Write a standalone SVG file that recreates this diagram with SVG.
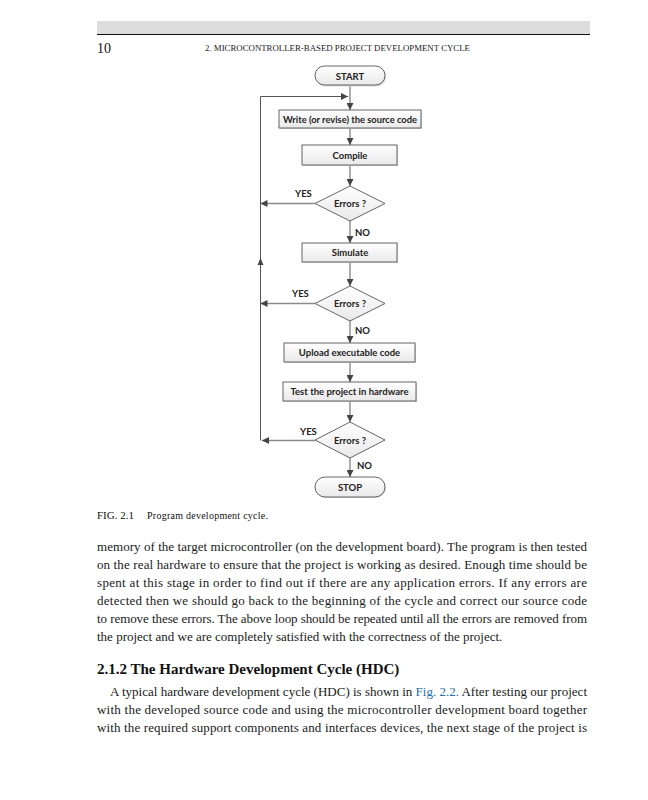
<svg xmlns="http://www.w3.org/2000/svg" width="648" height="800" viewBox="0 0 648 800">
<defs>
<linearGradient id="g" x1="0" y1="0" x2="0" y2="1"><stop offset="0" stop-color="#ffffff"/><stop offset="1" stop-color="#e9e9e9"/></linearGradient>
<marker id="ah" viewBox="0 0 10 10" refX="10" refY="5" markerWidth="7" markerHeight="7" markerUnits="userSpaceOnUse" orient="auto"><path d="M0,0 L10,5 L0,10 Z" fill="#444"/></marker>
<style>
.box{fill:url(#g);stroke:#555;stroke-width:0.9}
.sh{fill:#d8d8d8}
.lbl{font-family:Lato,"Open Sans","Liberation Sans",sans-serif;font-weight:bold;font-size:9.5px;fill:#222;text-anchor:middle}
.yn{font-family:Lato,"Open Sans","Liberation Sans",sans-serif;font-weight:bold;font-size:9.5px;fill:#222}
.c{fill:none;stroke:#8a8a8a;stroke-width:1.4;marker-end:url(#ah)}
.loop{fill:none;stroke:#555;stroke-width:1;marker-end:url(#ah)}
.body{font-family:"Liberation Serif",serif;font-size:13px;fill:#1a1a1a}
</style>
</defs>
<rect width="648" height="800" fill="#ffffff"/>
<!-- header -->
<rect x="97" y="21" width="493" height="13" fill="#dddddd"/>
<line x1="97" y1="34.5" x2="590" y2="34.5" stroke="#111" stroke-width="1.2"/>
<text x="97" y="53" font-family="Liberation Serif,serif" font-size="14" fill="#111">10</text>
<text x="205" y="51" font-family="Liberation Serif,serif" font-size="8.5" fill="#222" textLength="265" lengthAdjust="spacingAndGlyphs">2.  MICROCONTROLLER-BASED PROJECT DEVELOPMENT CYCLE</text>

<!-- connectors -->
<g id="connectors">
<line class="c" x1="350" y1="86" x2="350" y2="110"/>
<line class="c" x1="350" y1="128" x2="350" y2="145"/>
<line class="c" x1="350" y1="165" x2="350" y2="186"/>
<line class="c" x1="350" y1="221" x2="350" y2="243"/>
<line class="c" x1="350" y1="262" x2="350" y2="286"/>
<line class="c" x1="350" y1="320" x2="350" y2="343"/>
<line class="c" x1="350" y1="362" x2="350" y2="382"/>
<line class="c" x1="350" y1="401" x2="350" y2="422"/>
<line class="c" x1="350" y1="458" x2="350" y2="477"/>
<line class="c" x1="315" y1="203.5" x2="260.5" y2="203.5"/>
<line class="c" x1="315" y1="303.5" x2="260.5" y2="303.5"/>
<line class="c" x1="315" y1="440.5" x2="262" y2="440.5"/>
<polyline class="loop" points="260.5,440.5 260.5,96.5 348,96.5"/>
<path d="M260.5,258 L263.5,265 L257.5,265 Z" fill="#444"/>
</g>

<g id="start">
<rect x="316" y="67" width="70" height="19.5" rx="9.5" class="sh"/>
<rect x="315" y="66" width="70" height="19" rx="9.5" class="box"/>
<text x="350" y="79.5" class="lbl">START</text>
</g>
<g id="write">
<rect x="280" y="111" width="142" height="18" class="sh"/>
<rect x="279" y="110" width="142" height="18" class="box"/>
<text x="350" y="122.5" class="lbl" textLength="134" lengthAdjust="spacingAndGlyphs">Write (or revise) the source code</text>
</g>
<g id="compile">
<rect x="303" y="146" width="95" height="20" class="sh"/>
<rect x="302" y="145" width="95" height="20" class="box"/>
<text x="350" y="158.5" class="lbl">Compile</text>
</g>
<g id="err1">
<polygon points="350,186 385,203.5 350,221 315,203.5" class="box"/>
<text x="350" y="207" class="lbl">Errors ?</text>
<text x="295" y="197" class="yn">YES</text>
<text x="355" y="236" class="yn">NO</text>
</g>
<g id="simulate">
<rect x="303" y="244" width="95" height="19" class="sh"/>
<rect x="302" y="243" width="95" height="19" class="box"/>
<text x="350" y="256" class="lbl">Simulate</text>
</g>
<g id="err2">
<polygon points="350,286 385,303.5 350,321 315,303.5" class="box"/>
<text x="350" y="307" class="lbl">Errors ?</text>
<text x="292" y="297" class="yn">YES</text>
<text x="355" y="334" class="yn">NO</text>
</g>
<g id="upload">
<rect x="285" y="344" width="131" height="19" class="sh"/>
<rect x="284" y="343" width="131" height="19" class="box"/>
<text x="349.5" y="356" class="lbl">Upload executable code</text>
</g>
<g id="test">
<rect x="284" y="383" width="133" height="19" class="sh"/>
<rect x="283" y="382" width="133" height="19" class="box"/>
<text x="349.5" y="395" class="lbl">Test the project in hardware</text>
</g>
<g id="err3">
<polygon points="350,422 385,440 350,458 315,440" class="box"/>
<text x="350" y="443.5" class="lbl">Errors ?</text>
<text x="300" y="435" class="yn">YES</text>
<text x="357" y="469" class="yn">NO</text>
</g>
<g id="stop">
<rect x="316" y="478" width="70" height="20" rx="10" class="sh"/>
<rect x="315" y="477" width="70" height="20" rx="10" class="box"/>
<text x="350" y="490.5" class="lbl">STOP</text>
</g>

<!-- caption -->
<text x="97" y="519" font-family="Liberation Serif,serif" font-size="11" fill="#111">FIG. 2.1</text>
<text x="147" y="519" font-family="Liberation Serif,serif" font-size="10" fill="#111" textLength="121" lengthAdjust="spacing">Program development cycle.</text>

<!-- body -->
<text class="body" x="97" y="551" textLength="490" lengthAdjust="spacing">memory of the target microcontroller (on the development board). The program is then tested</text>
<text class="body" x="97" y="569" textLength="490" lengthAdjust="spacing">on the real hardware to ensure that the project is working as desired. Enough time should be</text>
<text class="body" x="97" y="587" textLength="490" lengthAdjust="spacing">spent at this stage in order to find out if there are any application errors. If any errors are</text>
<text class="body" x="97" y="605" textLength="490" lengthAdjust="spacing">detected then we should go back to the beginning of the cycle and correct our source code</text>
<text class="body" x="97" y="623" textLength="490" lengthAdjust="spacing">to remove these errors. The above loop should be repeated until all the errors are removed from</text>
<text class="body" x="97" y="641">the project and we are completely satisfied with the correctness of the project.</text>

<text x="97" y="674" font-family="Liberation Serif,serif" font-size="15" font-weight="bold" fill="#111">2.1.2  The Hardware Development Cycle (HDC)</text>
<text class="body" x="110" y="696" textLength="477" lengthAdjust="spacing">A typical hardware development cycle (HDC) is shown in <tspan fill="#1f6fae">Fig. 2.2.</tspan> After testing our project</text>
<text class="body" x="97" y="714" textLength="490" lengthAdjust="spacing">with the developed source code and using the microcontroller development board together</text>
<text class="body" x="97" y="732" textLength="490" lengthAdjust="spacing">with the required support components and interfaces devices, the next stage of the project is</text>
</svg>
